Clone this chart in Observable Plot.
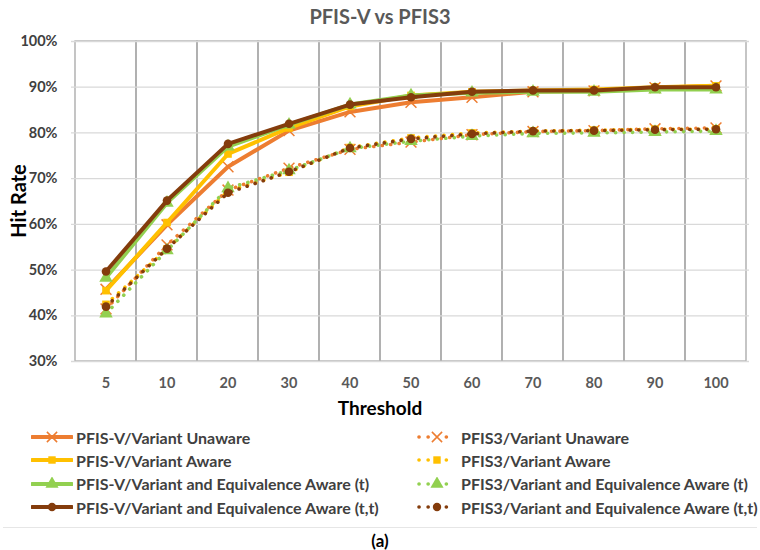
<!DOCTYPE html>
<html><head><meta charset="utf-8">
<script src="https://cdn.jsdelivr.net/npm/d3@7"></script>
<script src="https://cdn.jsdelivr.net/npm/@observablehq/plot@0.6"></script>
<style>
body{margin:0;background:#fff;font-family:Lato,"Open Sans",sans-serif;}
#wrap{position:relative;width:760px;height:550px;overflow:hidden;}
#title{position:absolute;top:4px;left:0;width:760px;text-align:center;font-weight:bold;font-size:20px;color:#595959;}
#chart{position:absolute;top:30px;left:0;}
#xlabel{position:absolute;top:396px;left:0;width:760px;text-align:center;font-weight:bold;font-size:19px;color:#000;}
#ylabel{position:absolute;left:18px;top:201px;transform:translate(-50%,-50%) rotate(-90deg);font-weight:bold;font-size:20px;color:#000;white-space:nowrap;}
.leg{position:absolute;display:flex;align-items:center;font-size:16px;font-weight:bold;color:#404040;white-space:nowrap;height:18px;}
.leg svg{margin-right:3px;}
#sep{position:absolute;left:3px;width:754px;top:527px;height:0;border-top:1px solid #e6e6e6;}
#cap{position:absolute;top:530px;left:0;width:760px;text-align:center;font-weight:bold;font-size:17px;color:#000;}
</style></head>
<body><div id="wrap">
<div id="title">PFIS-V vs PFIS3</div>
<div id="chart"></div>
<div id="xlabel">Threshold</div>
<div id="ylabel">Hit Rate</div>
<div id="sep"></div>
<div id="cap">(a)</div>
</div>
<script>
const thresholds = ["5","10","20","30","40","50","60","70","80","90","100"];
const yTicks = [30,40,50,60,70,80,90,100];

// PFIS-V (solid)
const pfisvUnaware = [45.8, 59.9, 72.6, 80.5, 84.6, 86.7, 87.8, 89.0, 89.2, 89.9, 90.3];
const pfisvAware   = [45.5, 60.4, 75.4, 81.1, 85.8, 88.2, 89.0, 89.3, 89.5, 90.0, 90.3];
const pfisvEquivT  = [48.3, 64.7, 77.0, 81.8, 86.2, 88.2, 88.8, 89.0, 89.0, 89.5, 89.5];
const pfisvEquivTT = [49.7, 65.2, 77.6, 82.0, 86.2, 87.8, 89.0, 89.3, 89.3, 90.0, 90.0];
// PFIS3 (dotted)
const pfis3Unaware = [41.5, 55.5, 67.5, 72.3, 76.4, 78.0, 79.6, 80.3, 80.5, 80.9, 81.1];
const pfis3Aware   = [42.5, 54.6, 67.3, 71.4, 76.8, 78.9, 80.0, 80.4, 80.6, 80.8, 80.8];
const pfis3EquivT  = [40.5, 54.3, 67.9, 71.8, 76.6, 78.2, 79.3, 79.9, 80.0, 80.2, 80.4];
const pfis3EquivTT = [42.0, 54.7, 66.9, 71.5, 76.7, 78.7, 79.8, 80.4, 80.5, 80.7, 80.8];

const seriesNames = [
  "PFIS-V/Variant Unaware","PFIS-V/Variant Aware",
  "PFIS-V/Variant and Equivalence Aware (t)","PFIS-V/Variant and Equivalence Aware (t,t)",
  "PFIS3/Variant Unaware","PFIS3/Variant Aware",
  "PFIS3/Variant and Equivalence Aware (t)","PFIS3/Variant and Equivalence Aware (t,t)"
];
const seriesValues = [pfisvUnaware,pfisvAware,pfisvEquivT,pfisvEquivTT,pfis3Unaware,pfis3Aware,pfis3EquivT,pfis3EquivTT];
const colors = ["#ED7D31","#FFC000","#92D050","#843C0C"];
const symbols = ["times","square","triangle","circle"];

const series = seriesNames.map((name,i)=>({
  name,
  color: colors[i%4],
  symbol: symbols[i%4],
  dotted: i>=4,
  data: thresholds.map((t,j)=>({threshold:t, value:seriesValues[i][j]}))
}));

const order = [4,5,6,7,0,1,2,3];
const marks = [
  Plot.cell(thresholds, {x: d=>d, fill:"none", stroke:"#a6a6a6", strokeWidth:1.3, inset:0}),
  Plot.gridY(yTicks, {stroke:"#d9d9d9", strokeOpacity:1, strokeWidth:1.3}),
];
for (const i of order) {
  const s = series[i];
  marks.push(Plot.line(s.data, {x:"threshold", y:"value", stroke:s.color,
    strokeWidth: s.dotted ? 3.6 : 4,
    strokeDasharray: s.dotted ? "0.1,8.4" : null,
    strokeLinecap:"round", strokeLinejoin:"round"}));
  const isTimes = s.symbol==="times";
  marks.push(Plot.dot(s.data, {x:"threshold", y:"value", symbol:s.symbol,
    r: s.symbol==="triangle" ? 5 : (isTimes ? 5 : 4.3),
    fill: isTimes ? "none" : s.color, stroke: isTimes ? s.color : "none", strokeWidth: isTimes ? 1.5 : 0}));
}
marks.push(Plot.axisX({tickSize:0, tickPadding:16, label:null, fill:"#595959", fontSize:14.5, fontWeight:"bold"}));
marks.push(Plot.axisY(yTicks, {tickSize:0, tickPadding:14, label:null, tickFormat:d=>d+"%", fill:"#404040", fontSize:14.5, fontWeight:"bold"}));

const chart = Plot.plot({
  width:760, height:390,
  marginTop:11, marginBottom:59, marginLeft:71, marginRight:11,
  style:{fontFamily:"Lato, 'Open Sans', sans-serif", background:"#fff"},
  x:{type:"band", domain:thresholds, padding:0},
  y:{domain:[30,100]},
  marks
});
document.getElementById("chart").appendChild(chart);

// legend
const wrap = document.getElementById("wrap");
series.forEach((s,i)=>{
  const row = i%4, col = i<4 ? 0 : 1;
  const div = document.createElement("div");
  div.className = "leg";
  div.style.top = (428 + row*23.4) + "px";
  div.style.left = (col===0 ? 31 : 416) + "px";
  const ns = "http://www.w3.org/2000/svg";
  const svg = document.createElementNS(ns,"svg");
  svg.setAttribute("width","42"); svg.setAttribute("height","14");
  const line = document.createElementNS(ns,"line");
  line.setAttribute("x1", s.dotted ? 3 : 1); line.setAttribute("x2", s.dotted ? 39 : 41);
  line.setAttribute("y1",7); line.setAttribute("y2",7);
  line.setAttribute("stroke", s.color);
  line.setAttribute("stroke-width", s.dotted ? 3.6 : 4);
  line.setAttribute("stroke-linecap","round");
  if (s.dotted) line.setAttribute("stroke-dasharray","0.1,9");
  svg.appendChild(line);
  const g = document.createElementNS(ns,"path");
  const sym = d3.symbol({times:d3.symbolTimes, square:d3.symbolSquare, triangle:d3.symbolTriangle, circle:d3.symbolCircle}[s.symbol], s.symbol==="triangle"?75:(s.symbol==="times"?70:55))();
  g.setAttribute("d", sym);
  g.setAttribute("transform","translate(21,7)");
  if (s.symbol==="times") { g.setAttribute("fill","none"); g.setAttribute("stroke",s.color); g.setAttribute("stroke-width","1.5"); }
  else { g.setAttribute("fill",s.color); }
  if (s.dotted) {
    const bg = document.createElementNS(ns,"rect");
    bg.setAttribute("x",15); bg.setAttribute("y",0); bg.setAttribute("width",12); bg.setAttribute("height",14); bg.setAttribute("fill","#fff");
    svg.appendChild(bg);
  }
  svg.appendChild(g);
  div.appendChild(svg);
  const span = document.createElement("span");
  span.textContent = s.name;
  div.appendChild(span);
  wrap.appendChild(div);
});
</script>
</body></html>
